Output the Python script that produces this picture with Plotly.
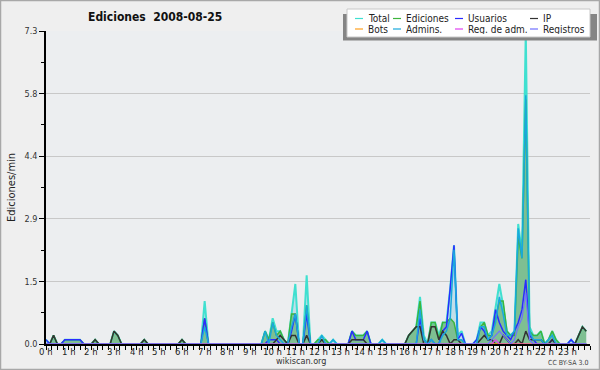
import plotly.graph_objects as go

# 10-minute bins, 144 per day (values = edits per minute)
hours = [f"{h} h" for h in range(24)]

total = [0.1,0,0.2,0,0,0.1, 0.1,0.1,0.1,0.1,0,0, 0,0.1,0,0,0,0, 0.3,0.2,0,0,0,0,
         0,0,0.1,0,0,0, 0,0,0,0,0,0, 0.1,0,0,0,0,0, 1.0,0,0,0,0,0,
         0,0,0,0,0,0, 0,0,0,0,0.3,0.1, 0.6,0.3,0.3,0.1,0,0.7, 1.4,0,0,1.6,0,0,
         0.1,0.2,0.1,0,0.1,0, 0,0,0,0.3,0.2,0.2, 0.2,0.3,0,0,0,0.1, 0,0,0,0,0,0,
         0.2,0.3,0.4,1.1,0.2,0, 0.5,0.5,0.2,0.5,0.5,1.3, 2.3,0.2,0.3,0,0,0, 0.1,0.5,0.5,0.2,0.3,0.9,
         1.4,0.9,0.3,0.2,0.3,2.8, 2.1,7.3,0.4,0.2,0.2,0.3, 0,0.1,0.3,0.1,0,0, 0,0.1,0,0.2,0.4,0.3]
ediciones = [0,0,0.2,0,0,0.1, 0.1,0.1,0.1,0.1,0,0, 0,0.1,0,0,0,0, 0.3,0.2,0,0,0,0,
             0,0,0.1,0,0,0, 0,0,0,0,0,0, 0.1,0,0,0,0,0, 0.6,0,0,0,0,0,
             0,0,0,0,0,0, 0,0,0,0,0.3,0.1, 0.5,0.2,0.3,0.1,0,0.7, 0.7,0,0,0.9,0,0,
             0.1,0.1,0.1,0,0,0, 0,0,0,0.3,0.2,0.2, 0.2,0.3,0,0,0,0, 0,0,0,0,0,0,
             0.2,0.3,0.4,1.0,0.1,0, 0.5,0.5,0.1,0.5,0.5,0.6, 0.5,0.1,0.1,0,0,0, 0,0.4,0.5,0.2,0.2,0.6,
             1.0,1.0,0.3,0.2,0.2,2.5, 2.0,5.7,0.3,0.2,0.2,0.3, 0,0.1,0.3,0.1,0,0, 0,0,0,0.2,0.4,0.3]
usuarios = [0.1,0,0,0,0,0.1, 0.1,0.1,0.1,0.1,0,0, 0,0,0,0,0,0, 0,0,0,0,0,0,
            0,0,0,0,0,0, 0,0,0,0,0,0, 0,0,0,0,0,0, 0.6,0,0,0,0,0,
            0,0,0,0,0,0, 0,0,0,0,0,0.1, 0.1,0.1,0,0,0,0.3, 0.7,0,0,0.7,0,0,
            0,0,0,0,0,0, 0,0,0,0.3,0.1,0.1, 0.1,0.3,0,0,0,0, 0,0,0,0,0,0,
            0,0,0,0.6,0.1,0, 0.1,0,0,0.3,0.4,1.3, 2.3,0.1,0.25,0,0,0, 0.1,0.4,0.3,0.1,0.2,0.8,
            0.5,0.3,0.2,0.1,0.3,0.5, 0.8,1.5,0.2,0.1,0,0, 0,0,0.1,0,0,0, 0,0.1,0,0,0,0]
ip = [0,0,0.2,0,0,0, 0,0,0,0,0,0, 0,0.1,0,0,0,0, 0.3,0.2,0,0,0,0,
      0,0,0.1,0,0,0, 0,0,0,0,0,0, 0.1,0,0,0,0,0, 0,0,0,0,0,0,
      0,0,0,0,0,0, 0,0,0,0,0,0, 0,0.1,0.2,0.1,0,0.2, 0.2,0,0,0.2,0,0,
      0,0.1,0,0,0,0, 0,0,0,0.1,0.1,0.1, 0.1,0,0,0,0,0, 0,0,0,0,0,0,
      0.2,0.3,0.4,0.4,0,0, 0.4,0.4,0.1,0.3,0.2,0, 0.1,0.1,0,0,0,0, 0,0.1,0.2,0.1,0.1,0,
      0,0.2,0.1,0,0,0.1, 0,0.3,0.1,0.1,0.1,0.1, 0,0,0.1,0,0,0, 0,0,0,0.2,0.4,0.3]
bots = [0] * 144
admins = [0,0,0,0,0,0, 0,0,0,0,0,0, 0,0,0,0,0,0, 0,0,0,0,0,0,
          0,0,0,0,0,0, 0,0,0,0,0,0, 0,0,0,0,0,0, 0.4,0,0,0,0,0,
          0,0,0,0,0,0, 0,0,0,0,0.3,0, 0.5,0.2,0.1,0,0,0.4, 0.7,0,0,0.9,0,0,
          0,0.2,0,0,0.1,0, 0,0,0,0,0,0, 0,0,0,0,0,0.1, 0,0,0,0,0,0,
          0,0,0,0.8,0.1,0, 0.1,0,0,0.2,0.3,0.6, 2.2,0.1,0.1,0,0,0, 0,0.4,0.4,0.1,0.2,0.5,
          1.1,0.7,0.2,0.2,0.3,2.7, 2.0,5.8,0.3,0.1,0.1,0.1, 0,0.1,0.2,0,0,0, 0,0,0,0,0,0]
reg_adm = [0] * 119 + [0.1] + [0] * 24
registros = [0] * 118 + [0.1, 0.2, 0.3, 0.2, 0.1, 0, 0.1, 0.4, 0.6, 1.2, 0.1] + [0] * 15

x = [i / 6 for i in range(144)]

L, R, T, B = 46, 590, 31, 344
W, H = R - L, B - T
def pxx(p):
    return (p - L) / W
def pxy(p):
    return (B - p) / H

FONT = "DejaVu Sans Condensed, DejaVu Sans, sans-serif"

series = [
    ("Total", total, "#40e0d0", 2.0),
    ("Ediciones", ediciones, "#3cb43c", 1.5),
    ("Usuarios", usuarios, "#2b2bff", 1.5),
    ("IP", ip, "#333333", 1.5),
    ("Bots", bots, "#ffa020", 1.5),
    ("Admins.", admins, "#1aa8dc", 1.5),
    ("Reg. de adm.", reg_adm, "#e040f0", 1.2),
    ("Registros", registros, "#7070ff", 1.2),
]

fig = go.Figure()
fig.add_trace(go.Scatter(x=x, y=total, mode="lines", line=dict(width=0),
                         fill="tozeroy", fillcolor="rgba(185,218,232,0.85)",
                         showlegend=False, hoverinfo="skip"))
fig.add_trace(go.Scatter(x=x, y=ediciones, mode="lines", line=dict(width=0),
                         fill="tozeroy", fillcolor="rgba(60,160,60,0.5)",
                         showlegend=False, hoverinfo="skip"))
for name, vals, col, w in series:
    fig.add_trace(go.Scatter(x=x, y=vals, mode="lines", name=name,
                             line=dict(color=col, width=w), showlegend=False))

yt = [0, 1.46, 2.92, 4.38, 5.84, 7.3]
fig.update_layout(
    width=600, height=370,
    margin=dict(l=L, r=600 - R, t=T, b=370 - B),
    paper_bgcolor="#efefef", plot_bgcolor="#eceef0",
    font=dict(family=FONT, size=9, color="#222"),
    xaxis=dict(range=[0, 24], showgrid=False, zeroline=False,
               showline=True, linecolor="#000", linewidth=2,
               tickvals=[i / 4 for i in range(97)], ticks="outside", ticklen=4,
               tickcolor="#000", tickwidth=1, showticklabels=False),
    yaxis=dict(range=[0, 7.3], tickvals=yt,
               ticktext=["0.0", "1.5", "2.9", "4.4", "5.8", "7.3"],
               showgrid=True, gridcolor="#c8c8c8", gridwidth=1, zeroline=False,
               showline=True, linecolor="#000", linewidth=1.5,
               ticks="outside", ticklen=5, tickcolor="#000",
               minor=dict(tickvals=[0.73, 2.19, 3.65, 5.11, 6.57], ticks="outside",
                          ticklen=3, tickcolor="#000", showgrid=False),
               tickfont=dict(size=9, color="#333")),
    showlegend=False,
)

shapes = []
# outer frame
shapes.append(dict(type="rect", xref="paper", yref="paper",
                   x0=pxx(0.5), x1=pxx(599.5), y0=pxy(0.5), y1=pxy(369.5),
                   line=dict(color="#a8a8a8", width=1.5), layer="below"))
# legend shadow + box
shapes.append(dict(type="rect", xref="paper", yref="paper",
                   x0=pxx(343), x1=pxx(597), y0=pxy(14), y1=pxy(40.5),
                   fillcolor="#858585", line=dict(width=0)))
shapes.append(dict(type="rect", xref="paper", yref="paper",
                   x0=pxx(347), x1=pxx(590), y0=pxy(9), y1=pxy(37),
                   fillcolor="#ffffff", line=dict(color="#c8c8c8", width=1)))
annotations = []
cols = [355, 393, 455, 530]
rows = [18.5, 29]
for k, (name, vals, col, w) in enumerate(series):
    r, c = divmod(k, 4)
    x0 = cols[c]
    y0 = rows[r]
    shapes.append(dict(type="line", xref="paper", yref="paper",
                       x0=pxx(x0), x1=pxx(x0 + 8), y0=pxy(y0), y1=pxy(y0),
                       line=dict(color=col, width=1.2)))
    annotations.append(dict(xref="paper", yref="paper", x=pxx(x0 + 12), y=pxy(y0),
                            text=name, showarrow=False, xanchor="left", yanchor="middle",
                            height=10, borderpad=0,
                            font=dict(family=FONT, size=10, color="#222")))

# hour labels
for h, lab in enumerate(hours):
    annotations.append(dict(xref="x", yref="paper", x=h, y=0, yshift=-7.5,
                            text=lab, showarrow=False, xanchor="center", yanchor="middle",
                            height=9, borderpad=0,
                            font=dict(family=FONT, size=9.5, color="#222")))

annotations += [
    dict(xref="paper", yref="paper", x=pxx(155), y=pxy(17), text="<b>Ediciones  2008-08-25</b>",
         showarrow=False, xanchor="center", yanchor="middle",
         font=dict(family=FONT, size=12, color="#111")),
    dict(xref="paper", yref="paper", x=pxx(11), y=pxy(188), text="Ediciones/min",
         textangle=-90, showarrow=False, xanchor="center", yanchor="middle",
         font=dict(family=FONT, size=11, color="#222")),
    dict(xref="paper", yref="paper", x=pxx(301), y=pxy(361), text="wikiscan.org",
         showarrow=False, xanchor="center", yanchor="middle",
         font=dict(family=FONT, size=9, color="#333")),
    dict(xref="paper", yref="paper", x=pxx(590), y=pxy(363), text="CC BY-SA 3.0",
         showarrow=False, xanchor="right", yanchor="middle",
         font=dict(family=FONT, size=7, color="#444")),
]
fig.update_layout(shapes=shapes, annotations=annotations)
fig.write_html("out.html")
